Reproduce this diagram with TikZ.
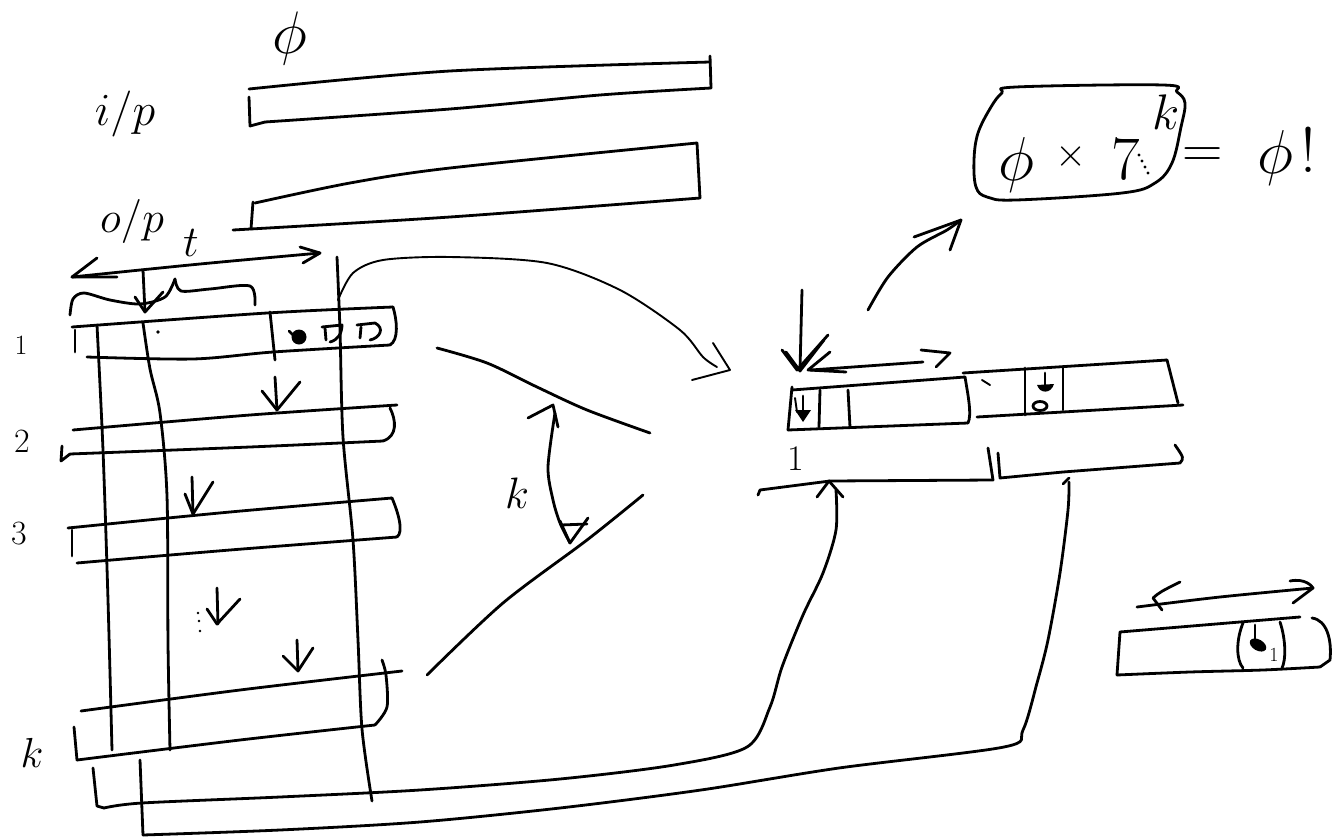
\RequirePackage{fix-cm}
\documentclass[tikz,border=0pt]{standalone}
\newcommand{\fsz}[1]{\fontsize{#1}{#1}\selectfont}
\begin{document}
\begin{tikzpicture}[x=1pt,y=-1pt,
  pen/.style={line width=2.8pt,line cap=round,line join=round},
  lightpen/.style={line width=1.9pt,line cap=round,line join=round},
  lbl/.style={inner sep=0pt,outer sep=0pt}]
\fill[white] (0,0) rectangle (1334,838);
\useasboundingbox (0,0) rectangle (1334,838);

% ---------- labels ----------
\node[lbl] (phitop) at (290,38) {\fsz{60}$\phi$};
\node[lbl] (ip) at (125,114) {\fsz{46}$i/p$};
\node[lbl] (op) at (132,221) {\fsz{44}$o/p$};
\node[lbl] (tlbl) at (191,243) {\fsz{44}$t$};
\node[lbl] (r1) at (21,345) {\fsz{28}1};
\node[lbl] (r2) at (22,441) {\fsz{34}2};
\node[lbl] (r3) at (19,534) {\fsz{34}3};
\node[lbl] (rk) at (32,753) {\fsz{42}$k$};
\node[lbl] (kmid) at (517,493) {\fsz{44}$k$};
\node[lbl] (one) at (796,459) {\fsz{36}1};

% ---------- i/p and o/p bars ----------
\draw[pen] plot[smooth] coordinates {(249,89) (450,71) (710,62)};
\draw[pen] (710,56) -- (711,88);
\draw[pen] plot[smooth] coordinates {(711,88) (600,95) (450,109) (265,122)};
\draw[pen] (249,97) -- (250,126) -- (265,122);

\draw[pen] (253,202) -- (251,229);
\draw[pen] plot[smooth] coordinates {(255,203) (350,183) (450,168) (697,143)};
\draw[pen] (697,143) -- (700,198);
\draw[pen] plot[smooth] coordinates {(233,230) (450,217) (700,198)};

% ---------- t arrow, brace ----------
\draw[pen] plot[smooth] coordinates {(72,277) (200,264) (320,253)};
\draw[pen] (97,258) -- (72,277) -- (117,277);
\draw[pen] (300,247) -- (320,253) -- (303,263);
\draw[pen] (143,270) -- (145,312);
\draw[pen] (135,297) -- (145,312) -- (163,292);
\draw[pen] plot[smooth] coordinates {(70,315) (73,299) (84,293) (110,300) (140,304) (165,297) (175,279)};
\draw[pen] plot[smooth] coordinates {(175,279) (181,291) (210,289) (250,286) (255,305)};

% ---------- columns ----------
\draw[pen] plot[smooth] coordinates {(97,325) (103,450) (108,600) (112,750)};
\draw[pen] plot[smooth] coordinates {(143,323) (150,369) (160,413) (167,496) (168,643) (170,750)};
\draw[pen] plot[smooth] coordinates {(337,257) (340,330) (343,437) (353,540) (358,640) (362,729) (372,801)};

% ---------- row 1 ----------
\draw[pen] plot[smooth] coordinates {(72,327) (267,313) (393,307)};
\draw[pen] (393,307) .. controls (397,320) and (399,340) .. (390,345);
\draw[pen] plot[smooth] coordinates {(390,345) (273,352) (193,359) (87,357)};
\draw[pen] (75,330) -- (75,352);
\draw[pen] (270,312) -- (275,360);
\fill (158,332) circle (1.8);
\fill (299,337) circle (7.5);
\draw[pen] (289,331) -- (294,336);
\draw[pen] (322,327) -- (342,325) .. controls (342,333) and (338,340) .. (330,342);
\draw[pen] (325,328) -- (326,340);
\draw[pen] (357,325) -- (375,323) .. controls (385,328) and (380,338) .. (370,340);
\draw[pen] (361,327) -- (360,338);

% ---------- row 2 ----------
\draw[pen] (275,377) -- (277,410);
\draw[pen] (262,391) -- (277,410) -- (300,382);
\draw[pen] plot[smooth] coordinates {(73,430) (250,415) (397,405)};
\draw[pen] (390,408) .. controls (396,420) and (398,436) .. (383,441);
\draw[pen] plot[smooth] coordinates {(383,441) (250,447) (70,454)};
\draw[pen] (62,446) -- (61,461) -- (70,454);

% ---------- row 3 ----------
\draw[pen] (192,477) -- (193,514);
\draw[pen] (185,494) -- (193,514) -- (213,482);
\draw[pen] plot[smooth] coordinates {(68,528) (230,512) (392,498)};
\draw[pen] (392,498) .. controls (398,512) and (404,532) .. (397,537);
\draw[pen] plot[smooth] coordinates {(397,537) (230,550) (77,563)};
\draw[pen] (72,530) -- (72,556);

% ---------- dots and arrow ----------
\draw[pen] (217,588) -- (218,624);
\draw[pen] (207,609) -- (217,624) -- (240,599);
\fill (198,613) circle (1.4);
\fill (199,621) circle (1.4);
\fill (200,631) circle (1.4);

% ---------- row k ----------
\draw[pen] (297,640) -- (298,670);
\draw[pen] (283,656) -- (298,671) -- (313,648);
\draw[pen] plot[smooth] coordinates {(81,711) (240,690) (402,671)};
\draw[pen] plot[smooth] coordinates {(382,660) (386,675) (387,707) (375,725)};
\draw[pen] plot[smooth] coordinates {(375,725) (240,740) (77,760)};
\draw[pen] (74,727) -- (77,760);

% ---------- bottom long lines ----------
\draw[pen] (93,768) -- (97,806) -- (104,808);
\draw[pen] plot[smooth] coordinates {(104,808) (142,803) (280,797) (420,790) (560,779) (674,765) (747,747) (770,707) (782,667) (803,615) (823,573) (836,530) (836,490)};
\draw[pen] (817,497) -- (829,481) -- (843,497);
\draw[pen] (140,760) -- (143,835);
\draw[pen] plot[smooth] coordinates {(143,835) (280,830) (420,822) (560,808) (701,790) (839,768) (1004,747) (1023,730) (1037,683) (1048,640) (1060,573) (1068,510) (1069,482)};
\draw[pen] (1063,484) -- (1069,478);

% ---------- middle curves ----------
\draw[lightpen] plot[smooth] coordinates {(338,300) (353,273) (383,260) (450,257) (547,263) (620,290) (680,330) (703,357) (717,367)};
\draw[lightpen] (713,343) -- (730,370) -- (692,380);
\draw[pen] plot[smooth] coordinates {(437,348) (487,363) (537,387) (587,410) (650,433)};
\draw[pen] plot[smooth] coordinates {(643,495) (587,540) (503,603) (427,675)};
\draw[pen] plot[smooth] coordinates {(555,413) (548,467) (553,500) (560,523) (570,543)};
\draw[pen] (528,418) -- (553,405) -- (558,427);
\draw[pen] (560,521) -- (570,543) -- (588,518);
\draw[pen] (561,525) -- (587,524);

% ---------- right panel ----------
\draw[pen] plot[smooth cycle, tension=0.6] coordinates {(1002,93) (1016,87) (1163,85) (1177,92) (1185,103) (1181,127) (1172,163) (1155,183) (1122,193) (1016,200) (987,197) (976,187) (974,160) (978,133) (991,107)};
\node[lbl] (fphia) at (1016,165) {\fsz{62}$\phi$};
\node[lbl] (ftimes) at (1071,156) {\fsz{40}$\times$};
\node[lbl] (fseven) at (1126,160) {\fsz{62}$7$};
\node[lbl] (fk) at (1166,112) {\fsz{50}$k$};
\node[lbl] (feq) at (1203,158) {\fsz{56}$=$};
\node[lbl] (fphib) at (1275,158) {\fsz{62}$\phi$};
\node[lbl] (fbang) at (1308,150) {\fsz{64}!};
\fill (1139,155) circle (1.6);
\fill (1142,161) circle (1.6);
\fill (1145,167) circle (1.6);
\fill (1148,173) circle (1.6);

\draw[pen] plot[smooth] coordinates {(868,310) (888,277) (917,247) (947,230) (961,220)};
\draw[pen] (914,237) -- (961,220) -- (950,250);

\draw[pen] (802,290) -- (800,370);
\draw[pen] (782,350) -- (797,370) -- (828,335);
\draw[pen] (786,352) -- (800,371) -- (824,340);
\draw[pen] (811,370) -- (923,362);
\draw[pen] (830,352) -- (808,370) -- (846,372);
\draw[pen] (921,350) -- (950,353) -- (936,367);

% bar 1 (right)
\draw[pen] (792,390) -- (965,377);
\draw[pen] (965,377) .. controls (968,395) and (972,415) .. (968,423);
\draw[pen] (968,423) -- (788,430);
\draw[pen] (792,387) -- (788,430);
\draw[pen] (820,390) -- (819,427);
\draw[pen] (848,390) -- (850,427);
\draw[lightpen] (795,398) -- (797,412);
\draw[pen] (803,396) -- (803,412);
\fill (795,410) -- (811,410) -- (803,422) -- cycle;

% bar 2 (right)
\draw[pen] (963,373) -- (1167,360);
\draw[pen] (1167,360) -- (1178,403);
\draw[pen] (1183,405) -- (977,417);
\draw[pen] (1025,368) -- (1025,415);
\draw[pen] (1063,367) -- (1063,410);
\draw[pen] (1045,373) -- (1045,388);
\fill (1037,385) .. controls (1040,394) and (1051,394) .. (1054,384) -- cycle;
\draw[pen] (1040,406) ellipse (7 and 4.5);
\draw[lightpen] (982,380) -- (990,385);

% brackets under right bars
\draw[pen] (758,495) -- (760,490) -- (830,481) -- (993,480) -- (988,448);
\draw[pen] (998,453) -- (1000,478) -- (1063,472) -- (1180,463) .. controls (1184,458) .. (1175,445);

% bottom-right small bar
\draw[pen] plot[smooth] coordinates {(1137,607) (1220,597) (1313,588)};
\draw[pen] (1180,582) .. controls (1160,592) .. (1153,598) -- (1162,610);
\draw[pen] (1290,581) .. controls (1305,578) and (1312,586) .. (1313,588) -- (1293,603);
\draw[pen] (1120,632) -- (1300,617);
\draw[pen] (1312,618) .. controls (1327,620) and (1332,640) .. (1330,660) -- (1320,667);
\draw[pen] plot[smooth] coordinates {(1320,667) (1263,670) (1190,672) (1117,675)};
\draw[pen] (1120,632) -- (1117,675);
\draw[pen] (1243,623) .. controls (1236,640) and (1236,660) .. (1243,668);
\draw[pen] (1280,622) .. controls (1286,640) and (1286,660) .. (1282,668);
\draw[pen] (1255,625) -- (1255,640);
\fill[rotate around={-30:(1258,645)}] (1258,645) ellipse (9 and 5.5);
\node[lbl] (sub1) at (1274,655) {\fsz{20}1};
\end{tikzpicture}
\end{document}
